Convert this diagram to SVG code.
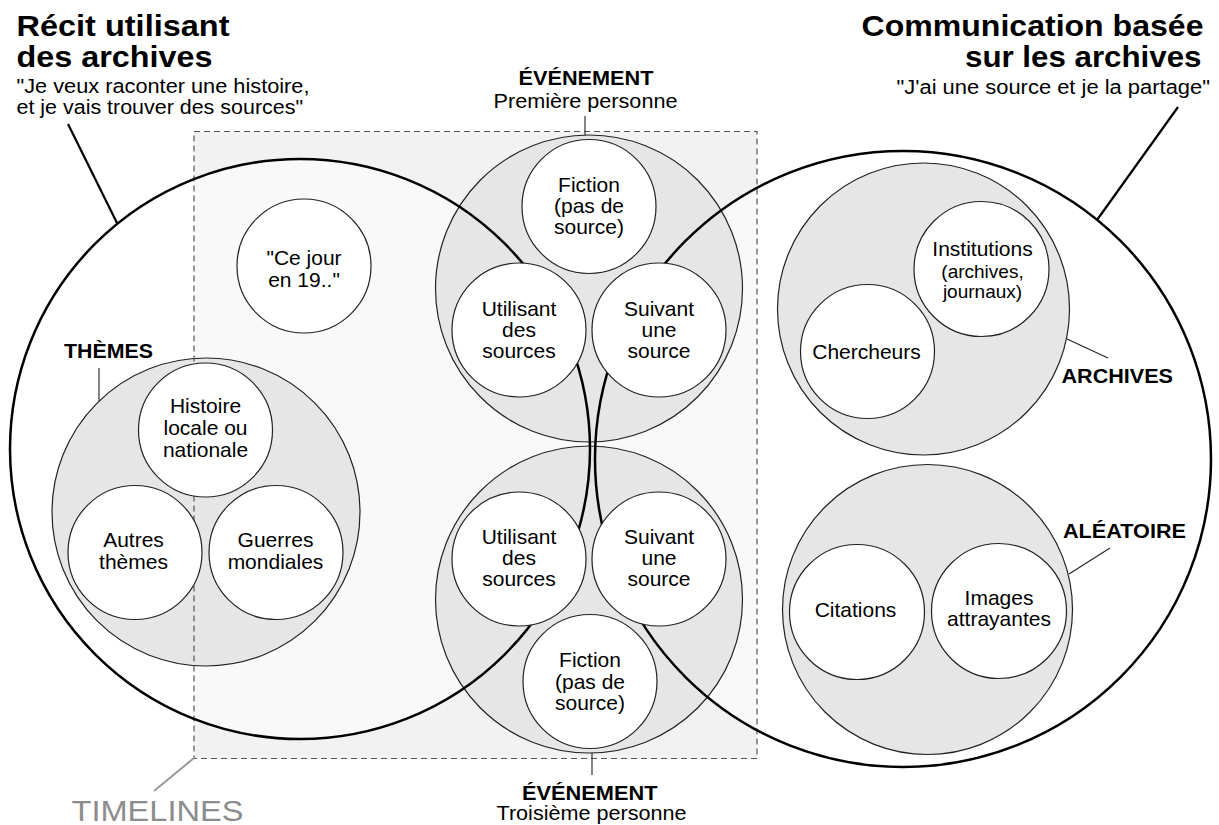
<svg xmlns="http://www.w3.org/2000/svg" width="1219" height="825" viewBox="0 0 1219 825">
<style>
text{font-family:"Liberation Sans",Arial,Helvetica,sans-serif;fill:#000}
.t{font-size:21px;text-anchor:middle}
.s{font-size:19px;text-anchor:middle}
.lbl{font-size:20px;font-weight:bold}
.sub{font-size:20px}
.title{font-size:30px;font-weight:bold}
.bigfill{fill:#fff;fill-opacity:0.55;stroke:none}
.bigline{fill:none;stroke:#000;stroke-width:2.5}
.grp{fill:#e6e6e6;stroke:#222;stroke-width:1.2}
.in{fill:#fff;stroke:#222;stroke-width:1.2}
.lead{stroke:#000;stroke-width:2.2;fill:none}
.thin{stroke:#222;stroke-width:1.1;fill:none}
</style>
<rect width="1219" height="825" fill="#fff"/>

<g id="timelines">
<rect x="194" y="131.5" width="563" height="627" fill="#f2f2f2"/>
<text x="71.5" y="821" font-size="30" style="fill:#8c8c8c" textLength="172" lengthAdjust="spacingAndGlyphs">TIMELINES</text>
</g>

<g id="recit">
<circle class="bigfill" cx="300" cy="449" r="290"/>
<text class="title" x="16.5" y="35.5" textLength="213" lengthAdjust="spacingAndGlyphs">Récit utilisant</text>
<text class="title" x="16.5" y="66.5" textLength="196" lengthAdjust="spacingAndGlyphs">des archives</text>
<text class="sub" x="16.5" y="93" textLength="293" lengthAdjust="spacingAndGlyphs">"Je veux raconter une histoire,</text>
<text class="sub" x="16.5" y="113.5" textLength="286.5" lengthAdjust="spacingAndGlyphs">et je vais trouver des sources"</text>
</g>

<g id="communication">
<circle class="bigfill" cx="903" cy="459" r="308"/>
<text class="title" x="861.5" y="35.5" textLength="342" lengthAdjust="spacingAndGlyphs">Communication basée</text>
<text class="title" x="965" y="66.5" textLength="236.5" lengthAdjust="spacingAndGlyphs">sur les archives</text>
<text class="sub" x="896.5" y="94" textLength="313.5" lengthAdjust="spacingAndGlyphs">"J'ai une source et je la partage"</text>
</g>

<g id="themes">
<circle class="grp" cx="206" cy="512" r="154"/>
<text class="lbl" x="64" y="358" textLength="89" lengthAdjust="spacingAndGlyphs">THÈMES</text>
</g>

<g id="evenement-premiere">
<circle class="grp" cx="589" cy="288.5" r="153.5"/>
<text class="lbl" x="518.5" y="85" textLength="135" lengthAdjust="spacingAndGlyphs">ÉVÉNEMENT</text>
<text class="sub" x="493.5" y="107.5" textLength="184" lengthAdjust="spacingAndGlyphs">Première personne</text>
</g>

<g id="evenement-troisieme">
<circle class="grp" cx="589" cy="599.5" r="153.5"/>
<text class="lbl" x="522" y="800" textLength="135.5" lengthAdjust="spacingAndGlyphs">ÉVÉNEMENT</text>
<text class="sub" x="496.5" y="820" textLength="190" lengthAdjust="spacingAndGlyphs">Troisième personne</text>
</g>

<g id="archives">
<circle class="grp" cx="923.5" cy="309" r="146"/>
<text class="lbl" x="1061.5" y="382.5" textLength="111.5" lengthAdjust="spacingAndGlyphs">ARCHIVES</text>
</g>

<g id="aleatoire">
<circle class="grp" cx="927.5" cy="609.5" r="145"/>
<text class="lbl" x="1063" y="537.5" textLength="123" lengthAdjust="spacingAndGlyphs">ALÉATOIRE</text>
</g>

<g id="outlines">
<rect x="194" y="131.5" width="563" height="627" fill="none" stroke="#555" stroke-width="1.2" stroke-dasharray="6,4"/>
<circle class="bigline" cx="300" cy="449" r="290"/>
<circle class="bigline" cx="903" cy="459" r="308"/>
</g>

<g id="ce-jour">
<circle class="in" cx="304" cy="266" r="67"/>
<text class="t" x="304" y="265">"Ce jour</text>
<text class="t" x="304" y="287">en 19.."</text>
</g>

<g id="histoire">
<circle class="in" cx="205.5" cy="430" r="67"/>
<text class="t" x="205.5" y="413">Histoire</text>
<text class="t" x="205.5" y="435">locale ou</text>
<text class="t" x="205.5" y="457">nationale</text>
</g>
<g id="autres">
<circle class="in" cx="135" cy="552.5" r="67"/>
<text class="t" x="133.5" y="547">Autres</text>
<text class="t" x="133.5" y="568.5">thèmes</text>
</g>
<g id="guerres">
<circle class="in" cx="276" cy="552.5" r="67"/>
<text class="t" x="275.5" y="547">Guerres</text>
<text class="t" x="275.5" y="568.5">mondiales</text>
</g>

<g id="fiction-1">
<circle class="in" cx="589" cy="206.5" r="67"/>
<text class="t" x="589" y="192">Fiction</text>
<text class="t" x="589" y="213">(pas de</text>
<text class="t" x="589" y="233.5">source)</text>
</g>
<g id="utilisant-1">
<circle class="in" cx="519" cy="330" r="67"/>
<text class="t" x="519" y="316">Utilisant</text>
<text class="t" x="519" y="337">des</text>
<text class="t" x="519" y="358">sources</text>
</g>
<g id="suivant-1">
<circle class="in" cx="659" cy="330" r="67"/>
<text class="t" x="659" y="316">Suivant</text>
<text class="t" x="659" y="337">une</text>
<text class="t" x="659" y="358">source</text>
</g>

<g id="utilisant-3">
<circle class="in" cx="519" cy="559" r="67"/>
<text class="t" x="519" y="543.5">Utilisant</text>
<text class="t" x="519" y="565">des</text>
<text class="t" x="519" y="586">sources</text>
</g>
<g id="suivant-3">
<circle class="in" cx="659" cy="559" r="67"/>
<text class="t" x="659" y="543.5">Suivant</text>
<text class="t" x="659" y="565">une</text>
<text class="t" x="659" y="586">source</text>
</g>
<g id="fiction-3">
<circle class="in" cx="590" cy="681.5" r="67"/>
<text class="t" x="590" y="667">Fiction</text>
<text class="t" x="590" y="688.5">(pas de</text>
<text class="t" x="590" y="709.5">source)</text>
</g>

<g id="institutions">
<circle class="in" cx="981.5" cy="269" r="67.5"/>
<text class="t" x="982.5" y="256">Institutions</text>
<text class="s" x="982.5" y="277.5">(archives,</text>
<text class="s" x="982.5" y="298">journaux)</text>
</g>
<g id="chercheurs">
<circle class="in" cx="867.5" cy="351.5" r="67"/>
<text class="t" x="866.5" y="358.5">Chercheurs</text>
</g>

<g id="citations">
<circle class="in" cx="857" cy="612" r="67.5"/>
<text class="t" x="855.5" y="617">Citations</text>
</g>
<g id="images">
<circle class="in" cx="999" cy="611" r="67.5"/>
<text class="t" x="999" y="605">Images</text>
<text class="t" x="999" y="626">attrayantes</text>
</g>

<g id="connectors">
<line class="lead" x1="68" y1="124" x2="117.5" y2="224"/>
<line class="lead" x1="1178" y1="107" x2="1097" y2="220"/>
<line class="thin" x1="99" y1="368" x2="99" y2="401"/>
<line class="thin" x1="1067" y1="339" x2="1108" y2="358"/>
<line class="thin" x1="1110" y1="548" x2="1069" y2="574"/>
<line class="thin" x1="585" y1="116" x2="585" y2="135"/>
<line class="thin" x1="592" y1="753" x2="592" y2="775"/>
<line x1="194" y1="758" x2="154" y2="791" stroke="#999" stroke-width="2"/>
</g>
</svg>
